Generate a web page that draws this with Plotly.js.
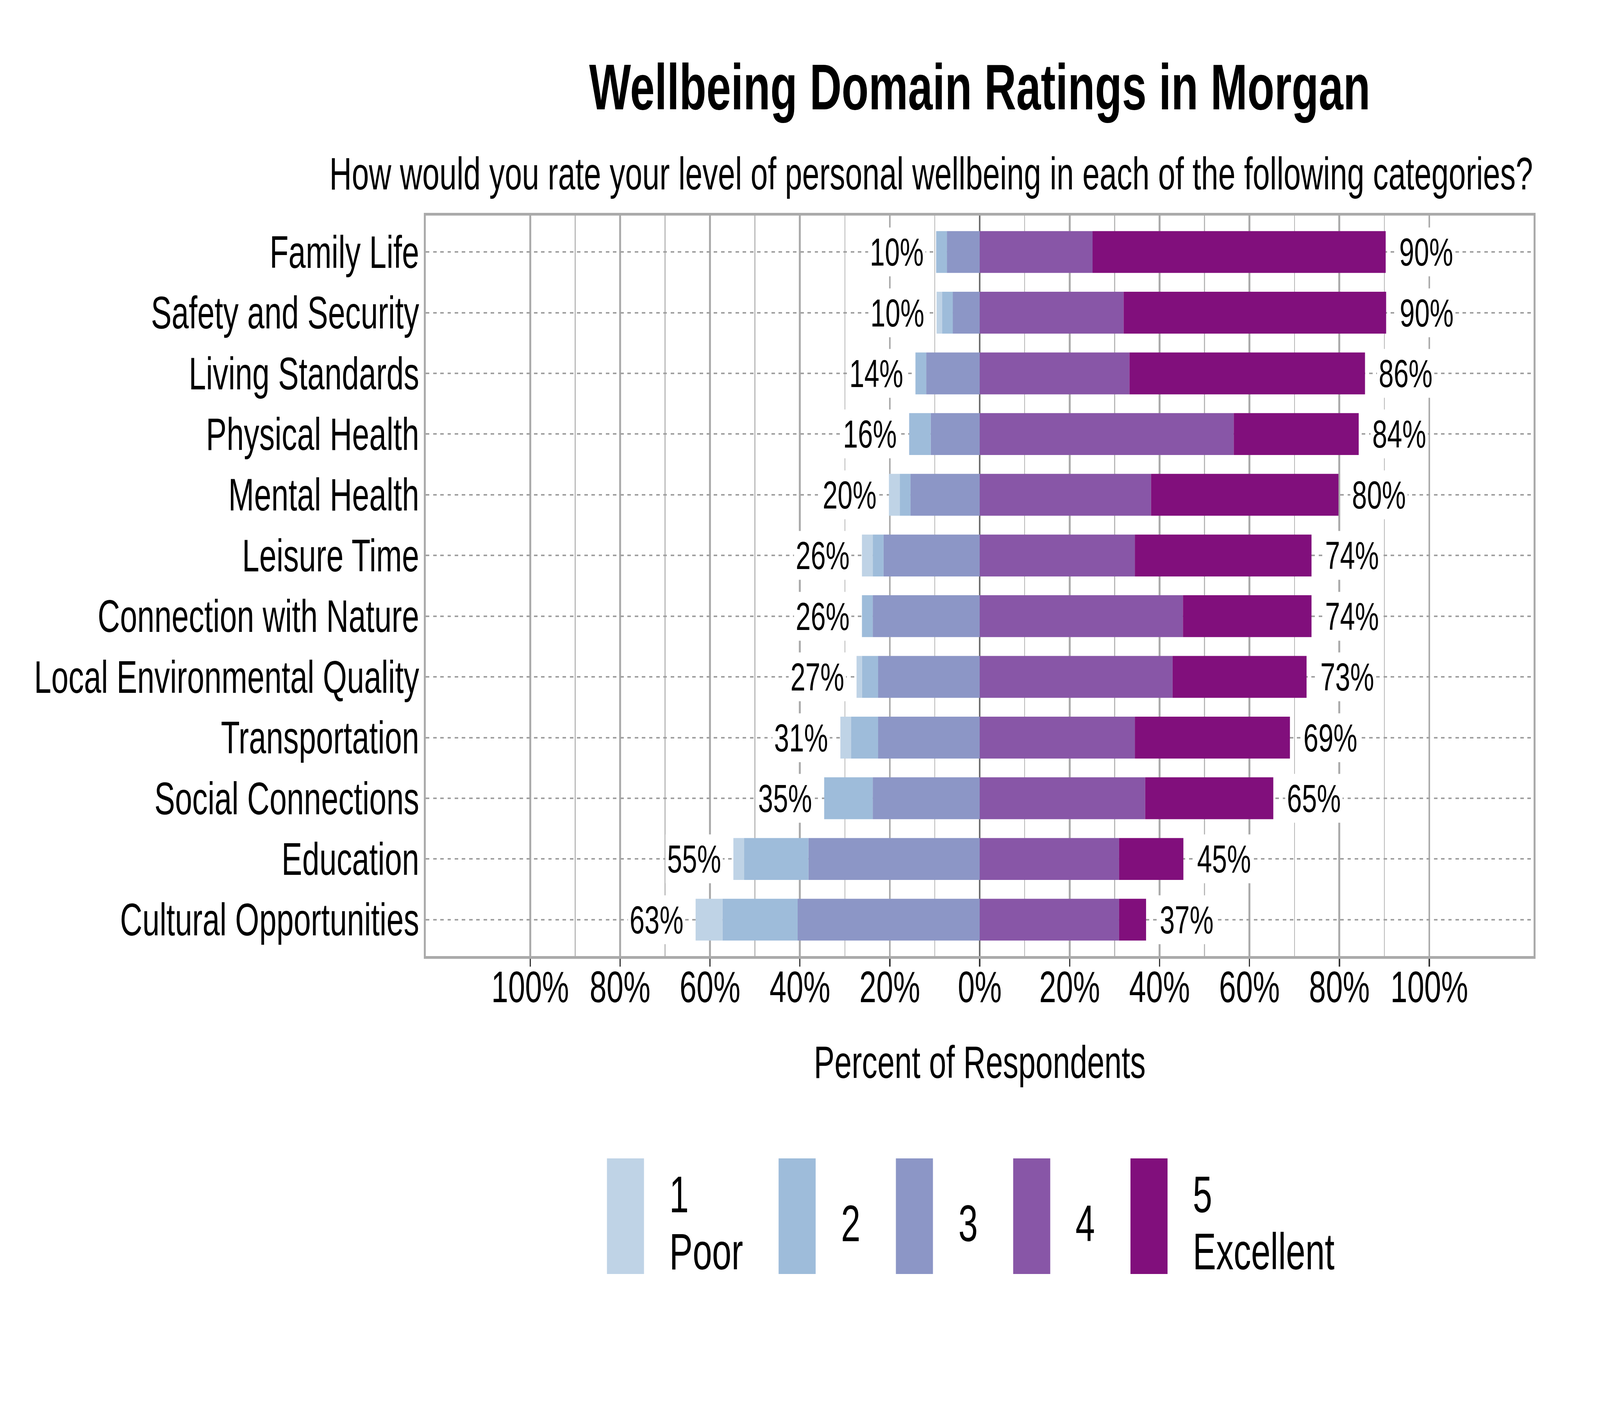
<!DOCTYPE html>
<html><head><meta charset="utf-8">
<script src="https://cdn.plot.ly/plotly-3.0.1.min.js"></script>
<style>html,body{margin:0;padding:0;background:#fff;overflow:hidden}#chart{position:absolute;left:0;top:0;width:6000px;height:3600px;transform-origin:0 0}</style>
</head><body><div id="chart"></div>
<script>
const categories = ["Family Life", "Safety and Security", "Living Standards", "Physical Health", "Mental Health", "Leisure Time", "Connection with Nature", "Local Environmental Quality", "Transportation", "Social Connections", "Education", "Cultural Opportunities"];
const rating1 = [0, 1.2, 0, 0, 2.4, 2.4, 0, 1.2, 2.4, 0, 2.4, 6.0];
const rating2 = [2.4, 2.4, 2.4, 4.8, 2.4, 2.4, 2.4, 3.6, 6.0, 10.8, 14.3, 16.7];
const rating3 = [7.3, 6.0, 11.9, 10.9, 15.4, 21.4, 23.8, 22.6, 22.6, 23.8, 38.1, 40.5];
const rating4 = [25.1, 32.0, 33.3, 56.5, 38.1, 34.5, 45.2, 42.9, 34.5, 36.8, 31.0, 31.0];
const rating5 = [65.2, 58.4, 52.4, 27.8, 41.7, 39.3, 28.6, 29.8, 34.5, 28.5, 14.3, 6.0];
const ratingNames = ["1", "2", "3", "4", "5"];
const ratingSubLabels = ["Poor", "", "", "", "Excellent"];
const ratingColors = ["#bfd3e6", "#9ebcda", "#8c96c6", "#8856a7", "#810f7c"];
const tickValues = [-100, -80, -60, -40, -20, 0, 20, 40, 60, 80, 100];
const tickLabels = ["100%", "80%", "60%", "40%", "20%", "0%", "20%", "40%", "60%", "80%", "100%"];
const minorTickValues = [-90, -70, -50, -30, -10, 10, 30, 50, 70, 90];
const titleText = "Wellbeing Domain Ratings in Morgan";
const subtitleText = "How would you rate your level of personal wellbeing in each of the following categories?";
const xTitleText = "Percent of Respondents";

const FONT = "'Liberation Sans', Arial, Helvetica, sans-serif";
const W = 6000, H = 3600;
const L = 1597, R = 249, T = 552, B = 1152;
const PW = W - L - R, PH = H - T - B;
const pxToPaperX = px => (px - L) / PW;
const pyToPaperY = py => (H - B - py) / PH;

// fit the 6000x3600 figure into the actual browser window
const chartDiv = document.getElementById('chart');
const fitX = Math.min(1, window.innerWidth / W), fitY = Math.min(1, window.innerHeight / H);
chartDiv.style.transform = 'scale(' + fitX + ',' + fitY + ')';

const ratings = [rating1, rating2, rating3, rating4, rating5];
const traces = [];
// negative side: 3 nearest zero, then 2, then 1
[2, 1, 0].forEach(k => {
  traces.push({
    type: 'bar', orientation: 'h', y: categories, x: ratings[k].map(v => -v),
    name: ratingNames[k], marker: {color: ratingColors[k], line: {width: 0}},
    showlegend: false, hoverinfo: 'skip'
  });
});
[3, 4].forEach(k => {
  traces.push({
    type: 'bar', orientation: 'h', y: categories, x: ratings[k],
    name: ratingNames[k], marker: {color: ratingColors[k], line: {width: 0}},
    showlegend: false, hoverinfo: 'skip'
  });
});

const negTotals = categories.map((c, i) => rating1[i] + rating2[i] + rating3[i]);
const posTotals = categories.map((c, i) => rating4[i] + rating5[i]);

const annotations = [];
categories.forEach((c, i) => {
  annotations.push({
    x: -negTotals[i], y: c, xref: 'x', yref: 'y', text: Math.round(negTotals[i]) + '%',
    showarrow: false, xanchor: 'right', yanchor: 'middle', xshift: -39,
    bgcolor: '#ffffff', borderpad: 6, font: {family: FONT, size: 101, color: '#000'}
  });
  annotations.push({
    x: posTotals[i], y: c, xref: 'x', yref: 'y', text: Math.round(posTotals[i]) + '%',
    showarrow: false, xanchor: 'left', yanchor: 'middle', xshift: 44,
    bgcolor: '#ffffff', borderpad: 6, font: {family: FONT, size: 101, color: '#000'}
  });
});

// subtitle
annotations.push({
  x: 1, y: pyToPaperY(445), xref: 'paper', yref: 'paper', text: subtitleText,
  showarrow: false, xanchor: 'right', yanchor: 'middle',
  font: {family: FONT, size: 116, color: '#000'}
});

// legend with tall swatches
const shapes = [];
const LEG_FONT = 131;
const ctx = document.createElement('canvas').getContext('2d');
ctx.font = LEG_FONT + "px 'Liberation Sans'";
let sx = 2276;
const swW = 139, swTop = 2966, swBot = 3262, textOff = 232, itemGap = 135;
ratingNames.forEach((nm, k) => {
  shapes.push({
    type: 'rect', xref: 'paper', yref: 'paper',
    x0: pxToPaperX(sx), x1: pxToPaperX(sx + swW), y0: pyToPaperY(swBot), y1: pyToPaperY(swTop),
    fillcolor: ratingColors[k], line: {width: 0}
  });
  const lines = ratingSubLabels[k] ? [nm, ratingSubLabels[k]] : [nm];
  const centers = lines.length === 2 ? [3058, 3204] : [3132];
  let maxW = 0;
  lines.forEach((t, j) => {
    maxW = Math.max(maxW, ctx.measureText(t).width);
    annotations.push({
      x: pxToPaperX(sx + textOff), y: pyToPaperY(centers[j]), xref: 'paper', yref: 'paper',
      text: t, showarrow: false, xanchor: 'left', yanchor: 'middle',
      font: {family: FONT, size: LEG_FONT, color: '#000'}
    });
  });
  sx = sx + textOff + maxW + itemGap;
});

const layout = {
  width: W, height: H,
  margin: {l: L, r: R, t: T, b: B, pad: 0},
  paper_bgcolor: '#ffffff', plot_bgcolor: '#ffffff',
  barmode: 'relative', bargap: 0.31,
  showlegend: false,
  font: {family: FONT, color: '#000'},
  title: {
    text: '<b>' + titleText + '</b>', xref: 'paper', x: 0.5, xanchor: 'center',
    yref: 'container', y: 1 - 222 / H, yanchor: 'middle',
    font: {family: FONT, size: 166, color: '#000'}
  },
  xaxis: {
    range: [-123.2, 123.2], tickmode: 'array', tickvals: tickValues, ticktext: tickLabels,
    ticks: 'outside', ticklen: 20, tickwidth: 5, tickcolor: '#333333',
    ticklabelstandoff: -46,
    tickfont: {family: FONT, size: 114, color: '#000'},
    showgrid: true, gridcolor: '#ababab', gridwidth: 7,
    minor: {tickmode: 'array', tickvals: minorTickValues, showgrid: true, gridcolor: '#b8b8b8', gridwidth: 3.5, ticks: ''},
    zeroline: true, zerolinecolor: '#6e6e6e', zerolinewidth: 6,
    showline: true, mirror: true, linecolor: '#aaaaaa', linewidth: 7,
    title: {text: xTitleText, standoff: 93, font: {family: FONT, size: 116, color: '#000'}},
    fixedrange: true
  },
  yaxis: {
    type: 'category', categoryorder: 'array', categoryarray: categories,
    range: [categories.length - 1 + 0.6, -0.6],
    ticks: '', ticklabelstandoff: -5,
    tickfont: {family: FONT, size: 116, color: '#000'},
    showgrid: true, gridcolor: '#a0a0a0', gridwidth: 4, griddash: '13px,14px',
    zeroline: false,
    showline: true, mirror: true, linecolor: '#aaaaaa', linewidth: 7,
    fixedrange: true
  },
  annotations: annotations,
  shapes: shapes
};

Plotly.newPlot('chart', traces, layout, {staticPlot: true, displayModeBar: false});
</script>
</body></html>
